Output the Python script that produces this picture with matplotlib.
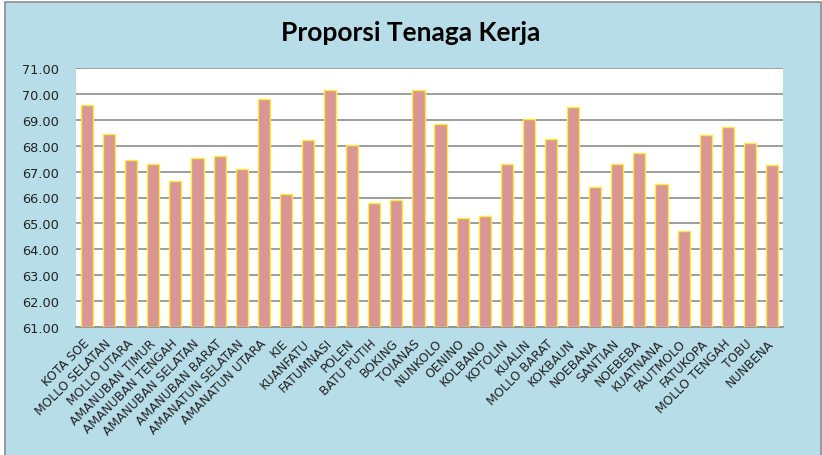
import matplotlib.pyplot as plt
from matplotlib.patches import Rectangle
import numpy as np

kecamatan = ["KOTA SOE", "MOLLO SELATAN", "MOLLO UTARA", "AMANUBAN TIMUR",
             "AMANUBAN TENGAH", "AMANUBAN SELATAN", "AMANUBAN BARAT",
             "AMANATUN SELATAN", "AMANATUN UTARA", "KIE", "KUANFATU",
             "FATUMNASI", "POLEN", "BATU PUTIH", "BOKING", "TOIANAS",
             "NUNKOLO", "OENINO", "KOLBANO", "KOTOLIN", "KUALIN",
             "MOLLO BARAT", "KOKBAUN", "NOEBANA", "SANTIAN", "NOEBEBA",
             "KUATNANA", "FAUTMOLO", "FATUKOPA", "MOLLO TENGAH", "TOBU",
             "NUNBENA"]
proporsi = [69.57, 68.44, 67.46, 67.31, 66.64, 67.51, 67.60, 67.10, 69.80,
            66.14, 68.23, 70.16, 68.04, 65.78, 65.92, 70.16, 68.85, 65.20,
            65.30, 67.28, 69.04, 68.27, 69.48, 66.39, 67.31, 67.73, 66.52,
            64.71, 68.41, 68.72, 68.09, 67.24]
yticks = np.arange(61, 72, 1)

fig = plt.figure(figsize=(8.22, 4.56), dpi=100)
fig.patch.set_facecolor("white")
# light blue chart area with gray border
fig.patches.append(Rectangle((5 / 822, -0.01), 816 / 822, 1 - 3 / 456 + 0.01,
                             transform=fig.transFigure, facecolor="#B7DDE8",
                             edgecolor="#8C8C8C", linewidth=1.2, zorder=-10))

ax = fig.add_axes([76 / 822, 1 - 328 / 456, 707 / 822, 259 / 456])
ax.set_facecolor("white")

x = np.arange(len(kecamatan))
ax.bar(x, [v - 61 for v in proporsi], bottom=61, width=0.55,
       color="#D99694", edgecolor="#FFEB3B", linewidth=1.0, zorder=3)

ax.set_ylim(61, 71)
ax.set_xlim(-0.5, len(kecamatan) - 0.5)
ax.set_yticks(yticks)
ax.set_yticklabels(["%.2f" % v for v in yticks], fontsize=9.3,
                   color="#222222", family="DejaVu Sans")
ax.set_xticks(x)
ax.set_xticklabels(kecamatan, rotation=45, ha="right", va="center",
                   rotation_mode="anchor", fontsize=8.8, color="#222222",
                   family="DejaVu Sans")
ax.tick_params(axis="y", length=0, pad=12)
ax.tick_params(axis="x", length=0, pad=10)
ax.grid(axis="y", color="#8C8C8C", linewidth=1.2, zorder=0)

for s in ["left", "right", "top"]:
    ax.spines[s].set_visible(False)
ax.spines["bottom"].set_color("#8C8C8C")
ax.spines["bottom"].set_linewidth(1.2)

fig.text(0.5, 1 - 33 / 456, "Proporsi Tenaga Kerja", ha="center",
         va="center", fontsize=19, fontweight="bold", family="Lato")

fig.savefig("out.png", dpi=100)
